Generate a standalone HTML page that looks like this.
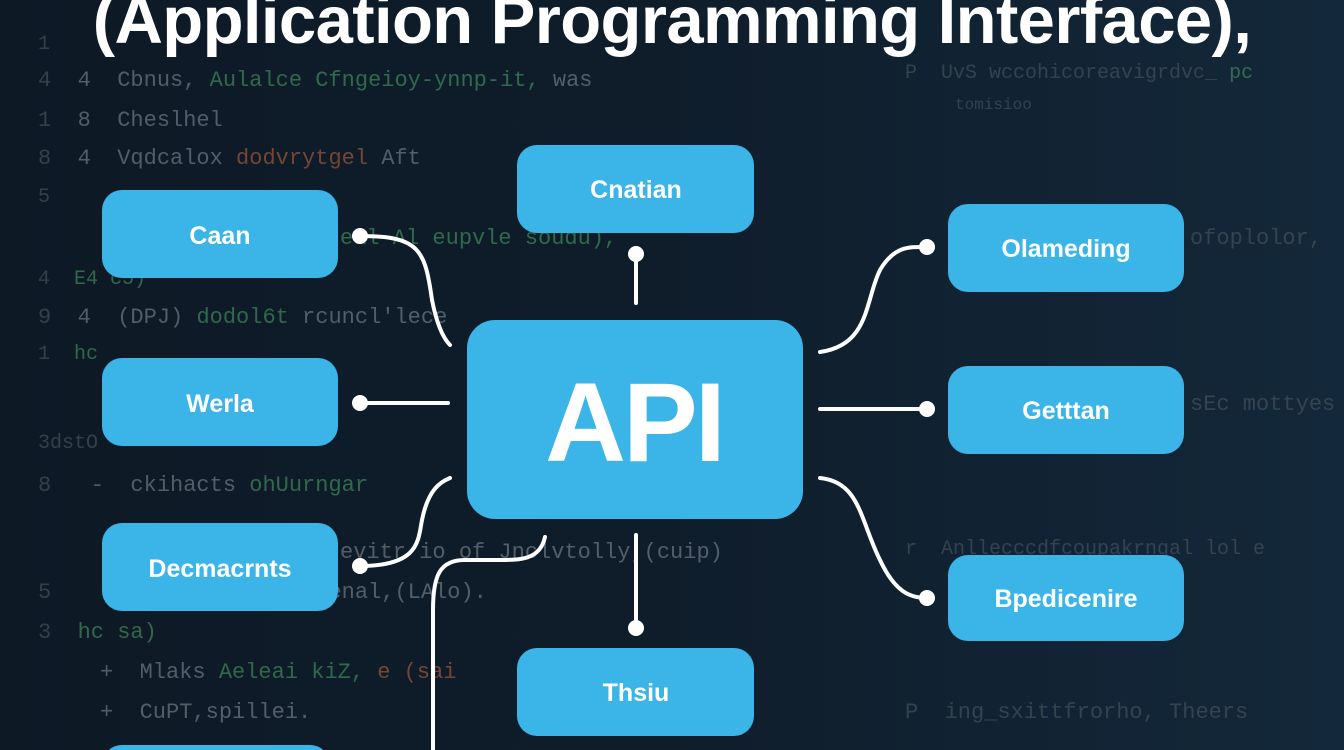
<!DOCTYPE html>
<html><head><meta charset="utf-8"><style>
html,body{margin:0;padding:0;}
body{width:1344px;height:750px;overflow:hidden;background:#0e1b28;position:relative;font-family:"Liberation Sans",sans-serif;}
.bg{position:absolute;inset:0;background:linear-gradient(90deg,#0d1925 0%,#0f1d2b 50%,#13283a 100%);}
.code{position:absolute;font-family:"Liberation Mono",monospace;font-size:25px;color:#6f7a84;white-space:pre;opacity:.7;}
.g{color:#3f8a5a}.o{color:#a0583a}.d{color:#45505a}
.t{position:absolute;left:0;width:1344px;top:-18px;text-align:center;color:#fff;font-weight:bold;font-size:67px;letter-spacing:-0.6px;}
svg{position:absolute;left:0;top:0;}
</style></head><body>
<div class="bg"></div>
<div class="code d" style="left:38px;top:33px;font-size:20px">1</div>
<div class="code" style="left:38px;top:68px;font-size:22px"><span class="d">4</span>  4  Cbnus, <span class="g">Aulalce Cfngeioy-ynnp-it,</span> was</div>
<div class="code" style="left:38px;top:108px;font-size:22px"><span class="d">1</span>  8  Chesl​hel</div>
<div class="code" style="left:38px;top:146px;font-size:22px"><span class="d">8</span>  4  Vqdcalox <span class="o">dodvrytgel</span> Aft</div>
<div class="code d" style="left:38px;top:186px;font-size:20px">5</div>
<div class="code" style="left:340px;top:226px;font-size:22px"><span class="g">eal Al eupvle soudu),</span></div>
<div class="code d" style="left:38px;top:268px;font-size:20px">4  <span class="g">E4 c5)</span></div>
<div class="code" style="left:38px;top:305px;font-size:22px"><span class="d">9</span>  4  (DPJ) <span class="g">dodol6t</span> rcuncl'lece</div>
<div class="code d" style="left:38px;top:343px;font-size:20px">1  <span class="g">hc</span></div>
<div class="code d" style="left:38px;top:432px;font-size:20px">3dstO</div>
<div class="code" style="left:38px;top:473px;font-size:22px"><span class="d">8</span>   -  ckihacts <span class="g">ohUurngar</span></div>
<div class="code" style="left:340px;top:540px;font-size:22px">evitr io of Jnclvtolly,(cuip)</div>
<div class="code" style="left:38px;top:580px;font-size:22px"><span class="d">5</span>                  efrenal,(LAlo).</div>
<div class="code" style="left:38px;top:620px;font-size:22px"><span class="d">3</span>  <span class="g">hc sa)</span></div>
<div class="code" style="left:100px;top:660px;font-size:22px">+  Mlaks <span class="g">Aeleai kiZ,</span> <span class="o">e (sai</span></div>
<div class="code" style="left:100px;top:700px;font-size:22px">+  CuPT,spillei.</div>
<div class="code d" style="left:905px;top:62px;font-size:20px">P  UvS wccohicoreavigrdvc_ <span class="g">pc</span></div>
<div class="code d" style="left:955px;top:96px;font-size:16px">tomisioo</div>
<div class="code d" style="left:1190px;top:226px;font-size:22px">ofoplolor,</div>
<div class="code d" style="left:1190px;top:392px;font-size:22px">sEc mottyes</div>
<div class="code d" style="left:905px;top:538px;font-size:20px">r  Anllecccdfcoupakrngal lol e</div>
<div class="code d" style="left:905px;top:700px;font-size:22px">P  ing_sxittfrorho, Theers</div>
<div class="t">(Application Programming Interface),</div>
<svg width="1344" height="750" viewBox="0 0 1344 750">
<g fill="#3bb4e8">
<rect x="102" y="190" width="236" height="88" rx="20"/>
<rect x="517" y="145" width="237" height="88" rx="20"/>
<rect x="102" y="358" width="236" height="88" rx="20"/>
<rect x="102" y="523" width="236" height="88" rx="20"/>
<rect x="467" y="320" width="336" height="199" rx="28"/>
<rect x="948" y="204" width="236" height="88" rx="20"/>
<rect x="948" y="366" width="236" height="88" rx="20"/>
<rect x="948" y="555" width="236" height="86" rx="20"/>
<rect x="517" y="648" width="237" height="88" rx="20"/>
<rect x="102" y="745" width="228" height="40" rx="20"/>
</g>
<g stroke="#fff" stroke-width="4" fill="none" stroke-linecap="round">
<path d="M360 236 C420 236 425 250 432 300 C438 330 445 340 450 345"/>
<line x1="636" y1="254" x2="636" y2="303"/>
<line x1="360" y1="403" x2="448" y2="403"/>
<path d="M360 566 C420 566 418 540 422 520 C428 490 440 482 450 478"/>
<path d="M545 537 C540 560 520 560 500 560 L465 560 C440 560 433 575 433 610 L433 750"/>
<line x1="636" y1="535" x2="636" y2="628"/>
<path d="M820 352 C870 345 865 300 880 270 C895 245 910 247 927 247"/>
<line x1="820" y1="409" x2="927" y2="409"/>
<path d="M820 478 C860 482 860 520 880 560 C895 592 910 598 927 598"/>
</g>
<g fill="#fff">
<circle cx="360" cy="236" r="8"/><circle cx="636" cy="254" r="8"/><circle cx="360" cy="403" r="8"/>
<circle cx="360" cy="566" r="8"/><circle cx="636" cy="628" r="8"/><circle cx="927" cy="247" r="8"/>
<circle cx="927" cy="409" r="8"/><circle cx="927" cy="598" r="8"/>
</g>
<g fill="#fff" font-family="Liberation Sans, sans-serif" font-size="25" font-weight="bold" text-anchor="middle">
<text x="220" y="244">Caan</text>
<text x="636" y="198">Cnatian</text>
<text x="220" y="412">Werla</text>
<text x="220" y="577">Decmacrnts</text>
<text x="1066" y="257">Olameding</text>
<text x="1066" y="419">Getttan</text>
<text x="1066" y="607">Bpedicenire</text>
<text x="636" y="701">Thsiu</text>
<text x="634" y="461" font-size="112" letter-spacing="-3">API</text>
</g>
</svg>
</body></html>
